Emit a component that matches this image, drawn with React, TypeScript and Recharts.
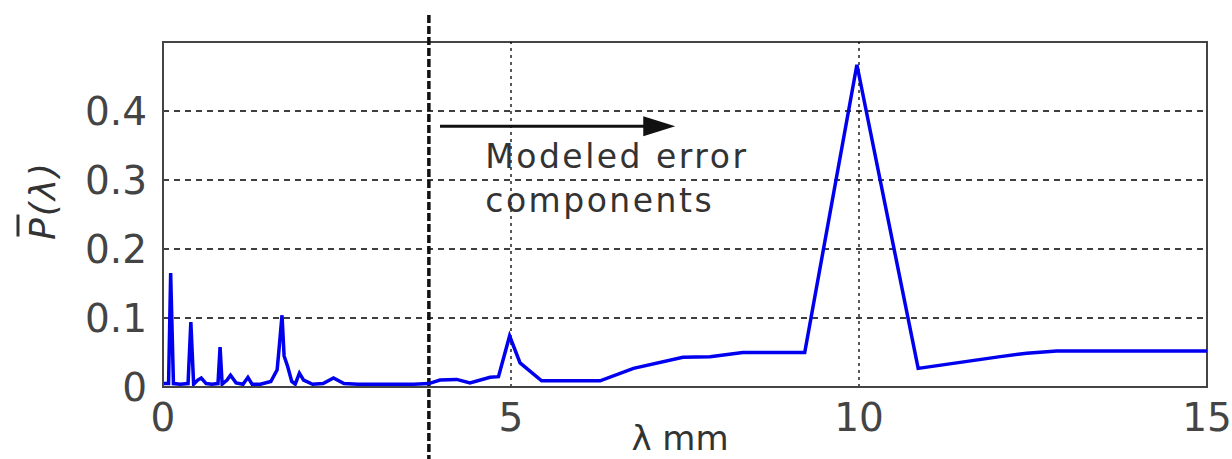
import { LineChart, Line, XAxis, YAxis, CartesianGrid, ReferenceLine, ReferenceArea, ReferenceDot } from 'recharts';

document.body.style.margin = '0';

// wavelength (mm) and mean power spectrum
const lambdaMm = [
  0.0, 0.08, 0.11, 0.15, 0.25, 0.36, 0.4, 0.44, 0.5, 0.55, 0.62, 0.7, 0.79, 0.82, 0.85, 0.92, 0.97,
  1.05, 1.15, 1.22, 1.28, 1.4, 1.55, 1.64, 1.67, 1.71, 1.74, 1.79, 1.85, 1.9, 1.96, 2.02, 2.15, 2.3,
  2.45, 2.6, 2.8, 3.2, 3.6, 3.82, 3.98, 4.22, 4.41, 4.7, 4.82, 4.98, 5.13, 5.44, 6.28, 6.76, 7.47,
  7.86, 8.33, 9.22, 9.97, 10.85, 12.03, 12.41, 12.84, 15.0,
];
const powerSpectrum = [
  0.005, 0.005, 0.165, 0.005, 0.004, 0.005, 0.094, 0.004, 0.01, 0.013, 0.005, 0.004, 0.005, 0.058,
  0.004, 0.01, 0.017, 0.006, 0.004, 0.014, 0.004, 0.004, 0.008, 0.025, 0.058, 0.104, 0.045, 0.03,
  0.008, 0.004, 0.02, 0.01, 0.004, 0.005, 0.013, 0.005, 0.004, 0.004, 0.004, 0.005, 0.01, 0.011,
  0.006, 0.014, 0.015, 0.074, 0.035, 0.009, 0.009, 0.027, 0.043, 0.044, 0.05, 0.05, 0.467, 0.027,
  0.044, 0.049, 0.052, 0.052,
];

const xTicks = [0, 5, 10, 15];
const yTicks = [0, 0.1, 0.2, 0.3, 0.4];
const vGridLines = [5, 10];
const boundaryLambda = 3.82;
const arrowFrom = { x: 3.98, y: 0.378 };
const arrowTo = { x: 7.36, y: 0.378 };
const noteAt = { x: 4.63, y: 0.318 };
const noteLines = ['Modeled error', 'components'];

const data = lambdaMm.map((l, i) => ({ lambda: l, p: powerSpectrum[i] }));

const tickStyle = { fill: '#444', fontSize: 39, fontFamily: 'DejaVu Sans' };

function YLabel({ viewBox }: any) {
  const cy = viewBox.y + viewBox.height / 2 - 14;
  return (
    <g transform={`translate(55, ${cy}) rotate(-90)`}>
      <text x={0} y={0} textAnchor="middle" fontSize={36} fontStyle="italic" fill="#333" fontFamily="DejaVu Sans" letterSpacing={2}>
        P(λ)
      </text>
      <line x1={-36} x2={-14} y1={-37} y2={-37} stroke="#333" strokeWidth={3} />
    </g>
  );
}

function XLabel({ viewBox }: any) {
  const cx = viewBox.x + viewBox.width / 2 - 5;
  return (
    <text x={cx} y={450} textAnchor="middle" fontSize={34} fill="#333" fontFamily="DejaVu Sans">
      λ mm
    </text>
  );
}

function BoundaryShape(props: any) {
  const top = Math.min(props.y1, props.y2);
  const bottom = Math.max(props.y1, props.y2);
  return (
    <line x1={props.x1} x2={props.x2} y1={top - 27} y2={bottom + 80} stroke="#111" strokeWidth={3.5} strokeDasharray="8 3" />
  );
}

function ArrowShape(props: any) {
  const { x1, x2, y1 } = props;
  return (
    <g>
      <line x1={x1} x2={x2 - 28} y1={y1} y2={y1} stroke="#111" strokeWidth={3} />
      <polygon points={`${x2 - 32},${y1 - 10} ${x2},${y1} ${x2 - 32},${y1 + 10}`} fill="#111" />
    </g>
  );
}

function NoteShape(props: any) {
  return (
    <text x={props.cx} y={props.cy} fontSize={33} fill="#333" fontFamily="DejaVu Sans" letterSpacing={2.5}>
      {noteLines.map((t, i) => (
        <tspan key={t} x={props.cx} dy={i === 0 ? 0 : 44}>
          {t}
        </tspan>
      ))}
    </text>
  );
}

export default function App() {
  return (
    <div style={{ width: 1232, height: 459, background: '#fff' }}>
      <LineChart width={1232} height={459} data={data} margin={{ top: 42, right: 25, bottom: 0, left: 0 }}>
        <CartesianGrid horizontal vertical={false} stroke="#000" strokeWidth={1.3} strokeDasharray="6 5" />
        <XAxis
          type="number"
          dataKey="lambda"
          domain={[0, 15]}
          ticks={xTicks}
          interval={0}
          height={72}
          tickLine={false}
          tickMargin={10}
          axisLine={{ stroke: '#444', strokeWidth: 2 }}
          tick={tickStyle}
          label={<XLabel />}
        />
        <YAxis
          type="number"
          domain={[0, 0.5]}
          ticks={yTicks}
          interval={0}
          width={163}
          tickLine={false}
          tickMargin={10}
          axisLine={{ stroke: '#444', strokeWidth: 2 }}
          tick={tickStyle}
          label={<YLabel />}
        />
        {vGridLines.map((v) => (
          <ReferenceLine key={v} x={v} stroke="#000" strokeWidth={1.3} strokeDasharray="3 4" />
        ))}
        <ReferenceArea x1={0} x2={15} y1={0} y2={0.5} fill="none" stroke="#444" strokeWidth={2} />
        <ReferenceLine x={boundaryLambda} shape={<BoundaryShape />} />
        <ReferenceLine segment={[arrowFrom, arrowTo]} shape={<ArrowShape />} />
        <ReferenceDot x={noteAt.x} y={noteAt.y} r={0} shape={<NoteShape />} />
        <Line
          type="linear"
          dataKey="p"
          stroke="#0000ee"
          strokeWidth={3.5}
          dot={false}
          isAnimationActive={false}
        />
      </LineChart>
    </div>
  );
}
